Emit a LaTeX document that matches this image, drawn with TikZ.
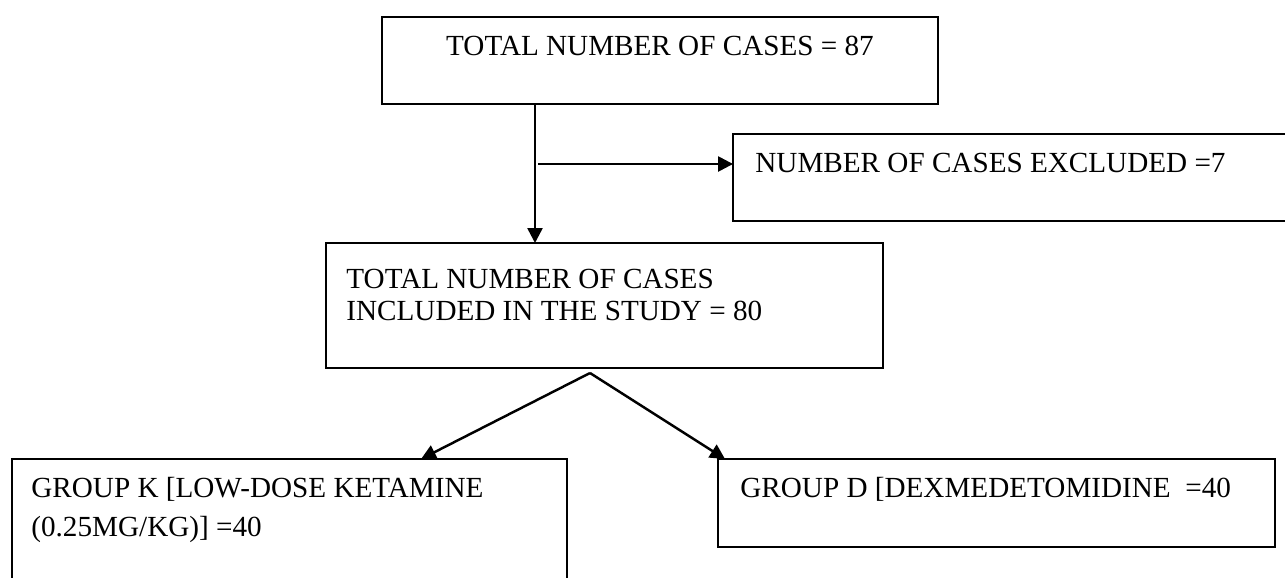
\documentclass[tikz,border=0pt]{standalone}
\usepackage{fontspec}
\setmainfont{Liberation Serif}
\usepackage{tikz}
\usetikzlibrary{arrows.meta}
\usetikzlibrary{calc}
\usetikzlibrary{positioning}

\tikzset{
  box/.style={draw=black, line width=1.2pt, rectangle, inner sep=0pt, outer sep=0pt},
  txt/.style={inner sep=0pt, font=\fontsize{16.6}{20}\selectfont},
  arr/.style={->, line width=1.4pt, >={Triangle[length=8.5pt,width=8.5pt]}}
}

\begin{document}
\begin{tikzpicture}[x=0.02cm, y=-0.02cm]

% picture frame, 1 unit = 1 pixel of the page
\useasboundingbox (0,0) rectangle (1285,578);
\clip (0,0) rectangle (1285,578);

% boxes
\node[box, minimum width=11.12cm, minimum height=1.74cm] (total) at (660,60.5) {};
\node[box, minimum width=11.34cm, minimum height=1.74cm] (excl) at (1016.5,177.5) {};
\node[box, minimum width=11.14cm, minimum height=2.50cm] (incl) at (604.5,305.5) {};
\node[box, minimum width=11.10cm, minimum height=2.82cm] (grpK) at (289.5,529.5) {};
\node[box, minimum width=11.14cm, minimum height=1.76cm] (grpD) at (996.5,503) {};

% texts
\node[txt, anchor=base] (totalA) at ($(total.north)+(0,38)$) {TOTAL NUMBER OF CASES = 87};
\node[txt, anchor=base west] (exclA) at ($(excl.north west)+(22,38)$) {NUMBER OF CASES EXCLUDED =7};
\node[txt, anchor=base west] (inclA) at ($(incl.north west)+(20,45)$) {TOTAL NUMBER OF CASES};
\node[txt, anchor=base west] (inclB) at ($(incl.north west)+(20,77)$) {INCLUDED IN THE STUDY = 80};
\node[txt, anchor=base west] (grpKA) at ($(grpK.north west)+(19,38)$) {GROUP K [LOW-DOSE KETAMINE};
\node[txt, anchor=base west] (grpKB) at ($(grpK.north west)+(19,77)$) {(0.25MG/KG)] =40};
\node[txt, anchor=base west] (grpDA) at ($(grpD.north west)+(22,38)$) {GROUP D [DEXMEDETOMIDINE~~=40};

% connectors
\coordinate (split) at (535,164);
\coordinate (fork) at (590,373);
\draw[arr] (total.south -| split) -- (incl.north -| split);
\draw[arr] ($(split)+(3,0)$) -- (split -| excl.west);
\draw[arr] (fork) -- ($(grpK.north west)+(409,0)$);
\draw[arr] (fork) -- ($(grpD.north west)+(7,0)$);

\end{tikzpicture}
\end{document}
